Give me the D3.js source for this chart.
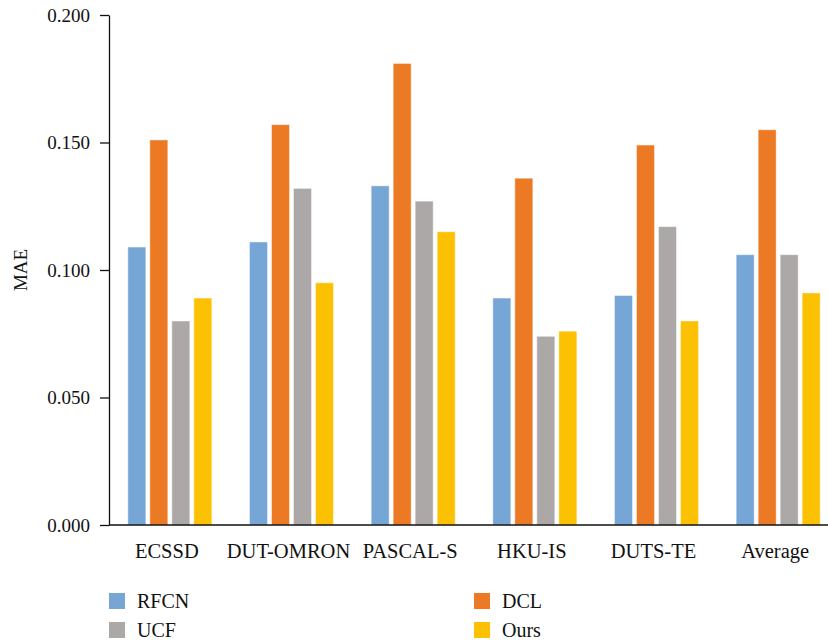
<!DOCTYPE html>
<html>
<head>
<meta charset="utf-8">
<script src="https://cdn.jsdelivr.net/npm/d3@7"></script>
<style>
  body { margin: 0; background: #fff; }
  svg { display: block; font-family: "Liberation Serif", "DejaVu Serif", serif; }
</style>
</head>
<body>
<div id="chart"></div>
<script>
const categories = ["ECSSD", "DUT-OMRON", "PASCAL-S", "HKU-IS", "DUTS-TE", "Average"];
const seriesNames = ["RFCN", "DCL", "UCF", "Ours"];
const rfcn = [0.109, 0.111, 0.133, 0.089, 0.090, 0.106];
const dcl = [0.151, 0.157, 0.181, 0.136, 0.149, 0.155];
const ucf = [0.080, 0.132, 0.127, 0.074, 0.117, 0.106];
const ours = [0.089, 0.095, 0.115, 0.076, 0.080, 0.091];
const yTicks = [0, 0.05, 0.1, 0.15, 0.2];
const colors = ["#75a6d6", "#ec7a24", "#aca8a7", "#fbc102"];

const width = 828, height = 642;
const plot = { left: 109, top: 15, bottom: 525, right: 839 };

const values = [rfcn, dcl, ucf, ours];
const rows = categories.map((c, i) => ({
  cat: c,
  vals: seriesNames.map((s, j) => ({ key: s, value: values[j][i] }))
}));

const svg = d3.select("#chart").append("svg")
  .attr("width", width)
  .attr("height", height);

const x0 = d3.scaleBand().domain(categories).range([plot.left, plot.right]);
const bw = x0.bandwidth();
const x1 = d3.scaleBand().domain(seriesNames)
  .range([bw / 2 - 42, bw / 2 + 42])
  .paddingInner(4 / 22);
const y = d3.scaleLinear().domain([0, 0.2]).range([plot.bottom, plot.top]);
const color = d3.scaleOrdinal().domain(seriesNames).range(colors);

// bars
svg.append("g").selectAll("g")
  .data(rows)
  .join("g")
  .attr("transform", d => `translate(${x0(d.cat)},0)`)
  .selectAll("rect")
  .data(d => d.vals)
  .join("rect")
  .attr("x", d => x1(d.key))
  .attr("y", d => y(d.value))
  .attr("width", x1.bandwidth())
  .attr("height", d => y(0) - y(d.value))
  .attr("fill", d => color(d.key))
  .attr("stroke", "#fff")
  .attr("stroke-opacity", 0.45)
  .attr("stroke-width", 1);

// y axis
const yAxis = svg.append("g")
  .attr("transform", `translate(${plot.left},0)`)
  .call(d3.axisLeft(y).tickValues(yTicks).tickFormat(d3.format(".3f"))
    .tickSize(9).tickSizeOuter(0).tickPadding(10));
yAxis.select(".domain").attr("stroke", "#111").attr("stroke-width", 1.3);
yAxis.selectAll(".tick line").attr("stroke", "#111").attr("stroke-width", 1.3);
yAxis.selectAll("text").attr("font-size", 19).attr("fill", "#111")
  .attr("font-family", "Liberation Serif, serif");

// x baseline
svg.append("line")
  .attr("x1", plot.left).attr("x2", width)
  .attr("y1", y(0)).attr("y2", y(0))
  .attr("stroke", "#111").attr("stroke-width", 1.3);

// x labels
svg.append("g").selectAll("text")
  .data(categories)
  .join("text")
  .attr("x", d => x0(d) + bw / 2 - 3)
  .attr("y", 558)
  .attr("text-anchor", "middle")
  .attr("font-size", 20.5)
  .attr("fill", "#111")
  .text(d => d);

// y title
svg.append("text")
  .attr("transform", `translate(27,${(plot.top + plot.bottom) / 2}) rotate(-90)`)
  .attr("text-anchor", "middle")
  .attr("font-size", 19)
  .attr("fill", "#111")
  .text("MAE");

// legend
const legendPos = [[109, 593], [474, 593], [109, 622], [474, 622]];
const legend = svg.append("g").selectAll("g")
  .data(seriesNames)
  .join("g")
  .attr("transform", (d, i) => `translate(${legendPos[i][0]},${legendPos[i][1]})`);
legend.append("rect")
  .attr("width", 16).attr("height", 16)
  .attr("fill", d => color(d));
legend.append("text")
  .attr("x", 28).attr("y", 15)
  .attr("font-size", 20)
  .attr("fill", "#111")
  .text(d => d);
</script>
</body>
</html>
